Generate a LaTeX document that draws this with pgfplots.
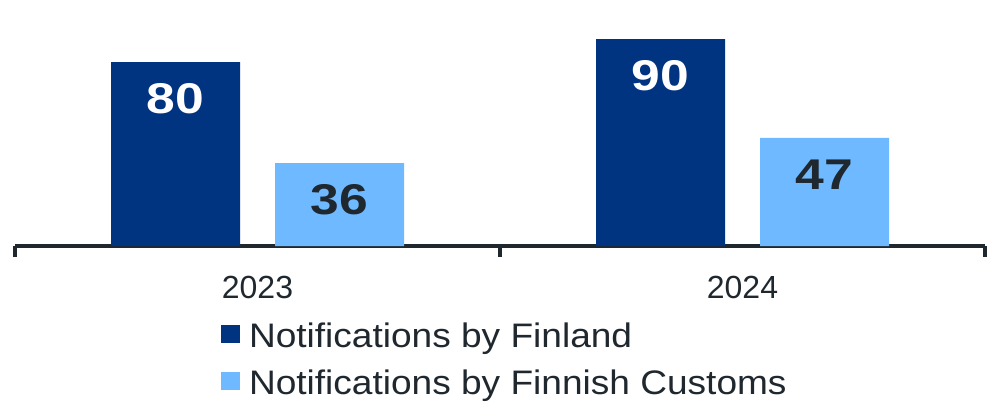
\documentclass[border=0pt]{standalone}
\usepackage{pgfplots}
\pgfplotsset{compat=1.18}
\usepackage{fontspec}
\setmainfont{Liberation Sans}
\newfontface\valuefont[FakeStretch=1.2]{Liberation Sans Bold}
\newfontface\legendfont[FakeStretch=1.09]{Liberation Sans}

\definecolor{finblue}{HTML}{003380}
\definecolor{customsblue}{HTML}{6EB9FF}
\definecolor{inkgray}{HTML}{20282F}

% value labels inside the bars
\newcommand{\barvalue}{\valuefont\fontsize{43}{43}\selectfont
  \pgfmathprintnumber[assume math mode=true]{\pgfplotspointmeta}}
% legend text with a fixed line box
\newcommand{\legtext}[1]{\legendfont\fontsize{34}{40}\selectfont\rule[-8pt]{0pt}{32pt}#1}

\begin{document}
\begin{tikzpicture}
\begin{axis}[
  at={(15pt,170pt)}, anchor=south west,
  scale only axis,
  width=970pt, height=230pt,
  xmin=-0.5, xmax=1.5, ymin=0, ymax=100,
  enlargelimits=false,
  ybar,
  axis y line=none,
  axis x line=bottom,
  x axis line style={-, line width=3.5pt, color=inkgray},
  xtick={0,1},
  xticklabels={2023,2024},
  minor xtick={-0.5,0.5,1.5},
  major tick length=0pt,
  minor tick length=11pt,
  tick align=outside,
  minor x tick style={line width=3.5pt, color=inkgray},
  xticklabel style={anchor=center, yshift=-41pt, text=inkgray,
    font=\fontsize{32}{38}\selectfont},
  legend style={
    at={(axis description cs:0.2124,-0.3327)}, anchor=north west,
    draw=none, fill=none, inner sep=0pt, outer sep=0pt,
    row sep=21pt, column sep=9pt, text=inkgray,
    nodes={inner sep=0pt},
  },
  legend cell align=left,
]
\addplot[fill=finblue, draw=none, bar width=129pt, bar shift=-82pt,
  legend image code/.code={\fill[finblue] (0pt,-7.5pt) rectangle (19pt,10.5pt);},
  nodes near coords={\barvalue},
  every node near coord/.append style={anchor=center, yshift=-37pt,
    text=white}]
  coordinates {(0,80) (1,90)};
\addlegendentry{\legtext{Notifications by Finland}}
\addplot[fill=customsblue, draw=none, bar width=129pt, bar shift=82pt,
  legend image code/.code={\fill[customsblue] (0pt,-7.5pt) rectangle (19pt,10.5pt);},
  nodes near coords={\barvalue},
  every node near coord/.append style={anchor=center, yshift=-37pt,
    text=inkgray}]
  coordinates {(0,36) (1,47)};
\addlegendentry{\legtext{Notifications by Finnish Customs}}
\end{axis}
\pgfresetboundingbox
\useasboundingbox (0,0) rectangle (1001pt,416pt);
\end{tikzpicture}
\end{document}
